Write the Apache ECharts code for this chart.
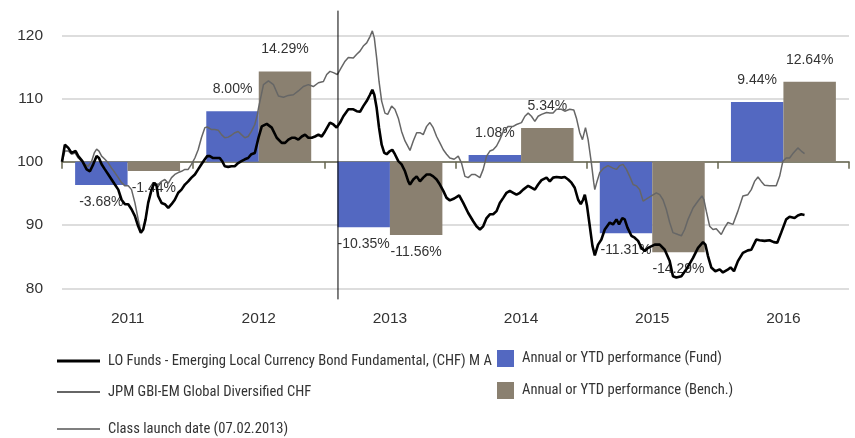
<!DOCTYPE html>
<html>
<head>
<meta charset="utf-8">
<script src="https://cdn.jsdelivr.net/npm/echarts/dist/echarts.min.js"></script>
<style>
html,body{margin:0;padding:0;background:#fff;}
#c{width:855px;height:438px;}
</style>
</head>
<body>
<div id="c"></div>
<script>
// ---------- DATA ----------
const years = ['2011', '2012', '2013', '2014', '2015', '2016'];
const fundPerf = [-3.68, 8.00, -10.35, 1.08, -11.31, 9.44];
const benchPerf = [-1.44, 14.29, -11.56, 5.34, -14.29, 12.64];
const yTicks = [80, 90, 100, 110, 120];
const launchDate = 2013.104; // 07.02.2013 as decimal year
const launchSpan = [123.9, 78.25];

const fundName = 'LO Funds - Emerging Local Currency Bond Fundamental, (CHF) M A';
const benchName = 'JPM GBI-EM Global Diversified CHF';
const launchName = 'Class launch date (07.02.2013)';
const fundBarName = 'Annual or YTD performance (Fund)';
const benchBarName = 'Annual or YTD performance (Bench.)';

// [decimal year, value]
const fundLine = [
[2011.000,100.0],[2011.022,102.7],[2011.048,102.2],[2011.073,101.4],[2011.104,101.7],[2011.124,100.9],
[2011.155,100.1],[2011.188,98.8],[2011.213,98.5],[2011.238,99.6],[2011.264,100.9],[2011.282,100.6],
[2011.302,99.6],[2011.327,98.8],[2011.353,98.0],[2011.378,97.2],[2011.403,96.4],[2011.429,95.6],
[2011.454,94.0],[2011.480,93.3],[2011.505,93.3],[2011.530,92.5],[2011.556,91.4],[2011.581,89.8],
[2011.601,88.8],[2011.619,89.3],[2011.637,90.9],[2011.657,93.5],[2011.683,95.6],[2011.703,96.7],
[2011.721,96.2],[2011.733,94.6],[2011.759,93.5],[2011.784,93.3],[2011.810,92.7],[2011.835,93.3],
[2011.860,94.0],[2011.886,95.1],[2011.911,95.6],[2011.937,96.4],[2011.962,96.9],[2011.987,97.5],
[2012.013,98.0],[2012.038,98.8],[2012.063,99.6],[2012.089,100.4],[2012.107,100.9],[2012.127,100.9],
[2012.152,100.6],[2012.178,100.6],[2012.203,100.6],[2012.221,100.1],[2012.241,99.3],[2012.267,99.2],
[2012.292,99.3],[2012.317,99.3],[2012.343,99.8],[2012.368,100.1],[2012.394,100.4],[2012.419,100.6],
[2012.444,101.2],[2012.470,101.4],[2012.498,103.8],[2012.523,105.6],[2012.561,106.0],[2012.599,105.4],
[2012.637,103.8],[2012.675,103.0],[2012.701,103.0],[2012.726,103.5],[2012.751,103.8],[2012.777,103.8],
[2012.802,103.5],[2012.828,104.0],[2012.853,104.3],[2012.878,103.8],[2012.904,103.8],[2012.929,104.0],
[2012.955,104.3],[2012.980,104.0],[2013.005,104.8],[2013.043,106.2],[2013.069,105.9],[2013.094,105.4],
[2013.120,106.2],[2013.145,107.2],[2013.183,108.3],[2013.221,108.3],[2013.247,108.0],[2013.272,107.9],
[2013.297,108.8],[2013.323,109.6],[2013.348,110.6],[2013.366,111.4],[2013.381,110.6],[2013.399,108.5],
[2013.417,105.4],[2013.437,102.7],[2013.457,101.4],[2013.475,101.2],[2013.500,101.7],[2013.518,101.9],
[2013.538,101.2],[2013.564,100.1],[2013.589,99.6],[2013.615,98.5],[2013.640,96.9],[2013.653,96.4],
[2013.678,97.2],[2013.704,97.7],[2013.729,96.9],[2013.754,97.5],[2013.780,98.0],[2013.805,98.0],
[2013.830,97.7],[2013.856,97.2],[2013.881,96.4],[2013.907,95.4],[2013.932,94.3],[2013.957,93.9],
[2013.990,94.2],[2014.028,94.7],[2014.059,93.5],[2014.097,91.9],[2014.135,90.6],[2014.160,89.8],
[2014.186,89.3],[2014.211,89.8],[2014.237,91.1],[2014.262,91.7],[2014.287,91.7],[2014.313,92.2],
[2014.338,93.5],[2014.364,94.3],[2014.389,95.1],[2014.414,95.4],[2014.440,95.1],[2014.465,94.8],
[2014.491,95.1],[2014.516,95.6],[2014.554,96.2],[2014.579,95.9],[2014.605,95.6],[2014.630,96.4],
[2014.656,97.1],[2014.694,97.5],[2014.719,96.9],[2014.744,97.5],[2014.770,97.6],[2014.808,97.5],
[2014.833,97.6],[2014.859,97.2],[2014.884,96.7],[2014.909,95.9],[2014.935,94.0],[2014.955,93.3],
[2014.973,94.0],[2014.986,94.8],[2015.003,93.0],[2015.024,89.8],[2015.044,86.7],[2015.062,85.2],
[2015.087,86.9],[2015.112,87.7],[2015.138,89.3],[2015.176,90.4],[2015.201,90.1],[2015.227,90.9],
[2015.247,90.1],[2015.272,91.1],[2015.290,90.9],[2015.311,89.6],[2015.341,88.3],[2015.366,88.0],
[2015.392,87.5],[2015.417,86.4],[2015.443,85.9],[2015.468,86.4],[2015.519,86.9],[2015.557,86.9],
[2015.595,86.1],[2015.633,84.3],[2015.658,81.9],[2015.684,81.7],[2015.722,81.9],[2015.760,83.0],
[2015.811,84.8],[2015.849,86.4],[2015.887,87.3],[2015.905,86.9],[2015.925,85.1],[2015.950,83.3],
[2015.981,82.7],[2016.014,83.0],[2016.039,82.5],[2016.072,82.9],[2016.097,83.3],[2016.123,82.7],
[2016.153,84.3],[2016.191,85.6],[2016.229,86.0],[2016.255,86.1],[2016.293,87.7],[2016.318,87.6],
[2016.356,87.5],[2016.394,87.6],[2016.427,87.3],[2016.453,87.2],[2016.483,88.8],[2016.521,90.9],
[2016.547,91.3],[2016.585,91.1],[2016.610,91.5],[2016.636,91.7],[2016.661,91.6]
];

const benchLine = [
[2011.000,100.0],[2011.022,101.7],[2011.048,101.7],[2011.073,101.2],[2011.099,101.4],[2011.124,100.6],
[2011.150,100.1],[2011.175,99.6],[2011.200,99.3],[2011.226,100.1],[2011.246,101.4],[2011.264,102.0],
[2011.282,101.7],[2011.302,100.9],[2011.327,100.4],[2011.353,99.8],[2011.378,99.0],[2011.403,98.3],
[2011.429,97.5],[2011.454,96.7],[2011.480,96.2],[2011.505,96.2],[2011.530,95.6],[2011.556,93.5],
[2011.581,90.9],[2011.601,89.0],[2011.619,89.3],[2011.637,90.9],[2011.657,93.5],[2011.683,95.6],
[2011.708,96.6],[2011.733,96.4],[2011.759,96.9],[2011.784,97.2],[2011.810,96.6],[2011.835,97.5],
[2011.860,98.0],[2011.886,98.3],[2011.911,98.5],[2011.937,98.8],[2011.962,98.8],[2011.987,99.6],
[2012.013,100.6],[2012.038,101.9],[2012.063,103.8],[2012.089,105.4],[2012.107,105.5],[2012.140,105.1],
[2012.165,105.1],[2012.191,105.0],[2012.216,104.3],[2012.241,103.8],[2012.267,103.9],[2012.292,104.2],
[2012.318,104.6],[2012.343,104.8],[2012.368,104.3],[2012.394,103.8],[2012.419,104.0],[2012.444,104.8],
[2012.470,105.9],[2012.490,107.5],[2012.498,108.5],[2012.536,112.2],[2012.574,112.8],[2012.612,112.2],
[2012.650,110.4],[2012.688,110.2],[2012.726,110.5],[2012.764,110.6],[2012.802,111.2],[2012.840,111.9],
[2012.878,112.2],[2012.916,111.9],[2012.955,112.5],[2012.993,112.7],[2013.018,113.8],[2013.043,114.3],
[2013.069,114.1],[2013.099,113.8],[2013.127,114.8],[2013.158,115.9],[2013.183,116.5],[2013.221,116.4],
[2013.247,117.0],[2013.272,117.5],[2013.297,118.3],[2013.323,118.8],[2013.348,119.8],[2013.366,120.7],
[2013.381,119.6],[2013.399,116.4],[2013.417,112.7],[2013.437,109.6],[2013.462,107.7],[2013.483,107.5],
[2013.513,108.8],[2013.538,108.3],[2013.564,106.9],[2013.589,104.8],[2013.615,103.3],[2013.653,101.8],
[2013.678,103.3],[2013.704,104.6],[2013.729,104.6],[2013.754,104.3],[2013.780,105.6],[2013.805,106.2],
[2013.830,105.4],[2013.856,104.0],[2013.881,103.0],[2013.907,101.9],[2013.932,101.2],[2013.957,100.6],
[2013.990,100.4],[2014.021,100.9],[2014.046,99.8],[2014.072,97.7],[2014.097,97.5],[2014.123,98.0],
[2014.148,98.0],[2014.186,97.5],[2014.211,98.8],[2014.237,100.9],[2014.262,101.7],[2014.287,101.9],
[2014.313,102.5],[2014.338,103.5],[2014.364,104.8],[2014.402,105.6],[2014.440,105.6],[2014.465,105.9],
[2014.503,106.2],[2014.529,107.2],[2014.554,107.7],[2014.579,107.2],[2014.605,106.4],[2014.630,107.2],
[2014.656,107.5],[2014.694,107.8],[2014.719,107.7],[2014.744,107.7],[2014.770,108.3],[2014.808,108.3],
[2014.833,108.0],[2014.871,108.3],[2014.902,108.2],[2014.922,106.9],[2014.947,104.6],[2014.968,103.5],
[2014.991,105.4],[2015.011,103.5],[2015.036,99.8],[2015.054,96.7],[2015.062,95.6],[2015.079,96.9],
[2015.100,98.3],[2015.130,99.0],[2015.163,99.4],[2015.201,99.0],[2015.227,98.8],[2015.252,99.4],
[2015.277,99.6],[2015.303,98.8],[2015.328,97.7],[2015.354,96.4],[2015.379,96.2],[2015.404,95.6],
[2015.430,93.8],[2015.443,93.5],[2015.493,94.6],[2015.531,95.1],[2015.557,94.8],[2015.582,94.0],
[2015.607,92.5],[2015.633,90.4],[2015.658,88.8],[2015.696,88.5],[2015.722,88.3],[2015.747,89.3],
[2015.773,90.9],[2015.811,92.7],[2015.849,93.8],[2015.879,94.6],[2015.894,94.0],[2015.912,92.2],
[2015.938,89.8],[2015.963,89.3],[2015.988,89.4],[2016.026,88.5],[2016.052,89.6],[2016.077,90.4],
[2016.115,90.1],[2016.153,92.2],[2016.191,94.6],[2016.229,94.8],[2016.255,95.6],[2016.280,96.9],
[2016.306,97.6],[2016.331,96.9],[2016.356,96.3],[2016.394,96.2],[2016.445,96.2],[2016.471,97.7],
[2016.496,100.1],[2016.521,100.6],[2016.547,100.6],[2016.572,101.3],[2016.610,102.2],[2016.636,101.7],
[2016.661,101.3]
];

// ---------- FONT PICK (legend uses a condensed face when one is available) ----------
const FONT = "'Liberation Sans', Arial, Helvetica, sans-serif";
const probe = document.createElement('canvas').getContext('2d');
function measure(font) { probe.font = font; return probe.measureText(fundName).width; }
const LEG_TARGET_W = 384;
let legStyle = 'normal';
let legFamily = "'Liberation Sans', Arial, sans-serif";
let legBaseW = measure("15px 'Liberation Sans', Arial, sans-serif");
(function pickCondensed() {
  const regW = legBaseW;
  const narrowW = measure("15px 'Liberation Sans Narrow'");
  const cands = [];
  if (narrowW < regW * 0.9) cands.push({ style: 'normal', fam: "'Liberation Sans Narrow'", w: narrowW });
  const fams = ["'Noto Sans'", "'Open Sans'", "'DejaVu Sans'", 'Roboto', 'Inter', 'Lato'];
  const stretches = ['condensed', 'semi-condensed'];
  fams.forEach(f => {
    const base = measure('15px ' + f);
    stretches.forEach(s => {
      const wv = measure(s + ' 15px ' + f);
      if (probe.font.indexOf('condensed') >= 0 || wv < base * 0.95) {
        if (wv < base * 0.95) cands.push({ style: s, fam: f, w: wv });
      }
    });
  });
  if (cands.length) {
    // prefer the one closest to target width at 15px
    cands.sort((a, b) => Math.abs(a.w - LEG_TARGET_W) - Math.abs(b.w - LEG_TARGET_W));
    legStyle = cands[0].style; legFamily = cands[0].fam; legBaseW = cands[0].w;
  }
})();
const legSize = Math.min(15, Math.round(150 * LEG_TARGET_W / legBaseW) / 10);

// ---------- CHART ----------
const BLUE = '#5368c1';
const BROWN = '#8a8070';
const GRAY = '#666666';
const TXT = '#333333';

function barData(arr) {
  return arr.map(v => ({
    value: v,
    label: { position: v < 0 ? 'bottom' : 'top', distance: v < 0 ? 10 : 15 }
  }));
}

function legendItem(name, top, left, iw, ih, color) {
  return {
    show: true, orient: 'horizontal', left: left, top: top, padding: 0,
    itemWidth: iw, itemHeight: ih, selectedMode: false,
    itemStyle: { borderWidth: 0 },
    textStyle: { fontFamily: legFamily, fontStyle: legStyle, fontSize: legSize, color: TXT, lineHeight: 16, padding: [0, 0, 0, 3] },
    data: [{ name: name, icon: 'rect', itemStyle: { color: color, borderWidth: 0 } }]
  };
}

const chart = echarts.init(document.getElementById('c'), null, { renderer: 'canvas' });
chart.setOption({
  animation: false,
  backgroundColor: '#ffffff',
  textStyle: { fontFamily: FONT },
  grid: { left: 62, right: 6, top: 35.3, bottom: 149.7, containLabel: false, outerBoundsMode: 'none' },
  legend: [
    legendItem(fundName, 353, 57, 43, 3, '#000000'),
    legendItem(benchName, 384, 57, 43, 2, GRAY),
    legendItem(launchName, 421, 57, 43, 1, '#000000'),
    legendItem(fundBarName, 350, 497, 17, 17, BLUE),
    legendItem(benchBarName, 382, 497, 17, 17, BROWN)
  ],
  xAxis: [
    {
      type: 'category', data: years, boundaryGap: true, position: 'bottom', offset: 11.7,
      axisLine: { show: true, lineStyle: { color: '#66664f', width: 1.5 } },
      axisTick: { show: true, length: 7, lineStyle: { color: '#66664f', width: 1.5 } },
      axisLabel: { color: TXT, fontSize: 15.5, margin: 11, fontFamily: FONT },
      splitLine: { show: false }
    },
    {
      type: 'value', min: 2011, max: 2017, show: false, splitLine: { show: false }
    }
  ],
  yAxis: [
    {
      type: 'value', min: yTicks[0], max: yTicks[yTicks.length - 1], interval: 10,
      axisLine: { show: false }, axisTick: { show: false },
      axisLabel: { color: TXT, fontSize: 15.5, margin: 19, fontFamily: FONT },
      splitLine: { show: true, lineStyle: { color: '#d2d2d2', width: 1.5 } }
    },
    {
      type: 'value', min: yTicks[0] - 100, max: yTicks[yTicks.length - 1] - 100, show: false,
      splitLine: { show: false }
    }
  ],
  series: [
    {
      name: fundBarName, type: 'bar', xAxisIndex: 0, yAxisIndex: 1,
      data: barData(fundPerf), barGap: '0%', barCategoryGap: '20%',
      itemStyle: { color: BLUE },
      label: { show: true, color: TXT, fontSize: 14, fontFamily: FONT, formatter: p => p.value.toFixed(2) + '%' },
      z: 2
    },
    {
      name: benchBarName, type: 'bar', xAxisIndex: 0, yAxisIndex: 1,
      data: barData(benchPerf), barGap: '0%', barCategoryGap: '20%',
      itemStyle: { color: BROWN },
      label: { show: true, color: TXT, fontSize: 14, fontFamily: FONT, formatter: p => p.value.toFixed(2) + '%' },
      z: 2
    },
    {
      name: benchName, type: 'line', xAxisIndex: 1, yAxisIndex: 0,
      data: benchLine, showSymbol: false, symbol: 'none', clip: false,
      color: GRAY, lineStyle: { color: GRAY, width: 1.5 }, z: 3
    },
    {
      name: fundName, type: 'line', xAxisIndex: 1, yAxisIndex: 0,
      data: fundLine, showSymbol: false, symbol: 'none', clip: false,
      color: '#000000', lineStyle: { color: '#000000', width: 2.6 }, z: 4
    },
    {
      name: launchName, type: 'line', xAxisIndex: 1, yAxisIndex: 0,
      data: [[launchDate, launchSpan[0]], [launchDate, launchSpan[1]]],
      showSymbol: false, symbol: 'none', clip: false,
      color: '#000000', lineStyle: { color: '#000000', width: 1 }, z: 5
    }
  ]
});
</script>
</body>
</html>
